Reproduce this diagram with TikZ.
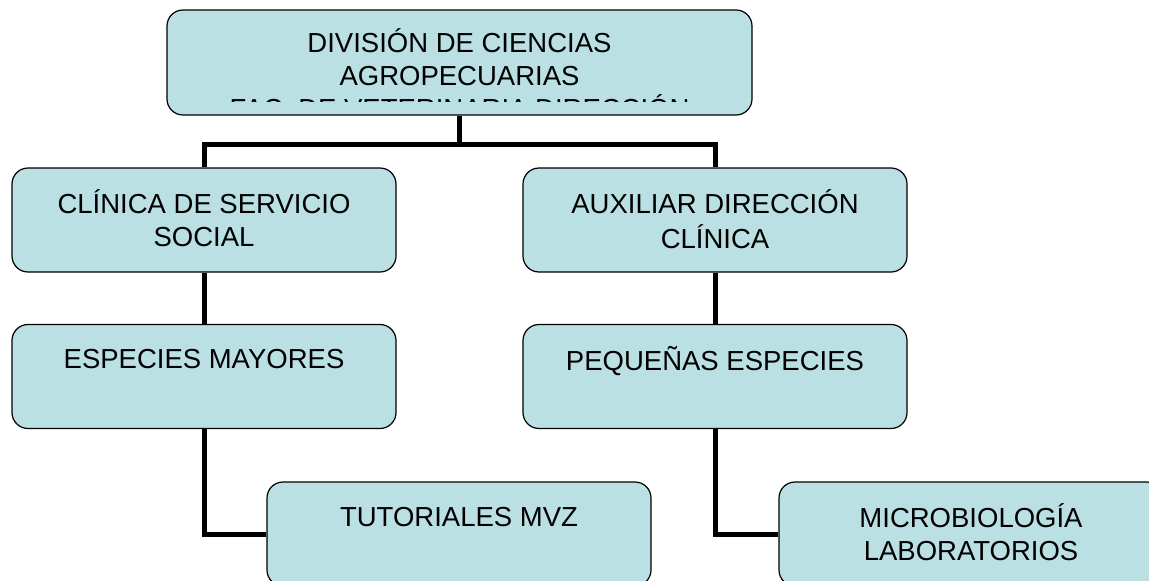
\documentclass[tikz,border=0pt]{standalone}
\usepackage{fontspec}
\setmainfont{Liberation Sans}
\definecolor{celeste}{HTML}{BBE0E3}
\newcommand{\rotulo}[3][61pt]{\parbox[c][#1][t]{#2}{\centering\strut #3}}

\begin{document}
\begin{tikzpicture}[x=1pt, y=1pt,
	caja/.style={draw=black, fill=celeste, line width=1.2pt, rounded corners=16pt, minimum width=384pt, minimum height=104pt, inner sep=0pt, font=\fontsize{27.5}{32.7}\selectfont},
	conector/.style={draw=black, line width=5pt}]
	\clip (0,0) rectangle (1149,-581);
	\node[caja, minimum width=585pt, minimum height=105pt, path picture={
		\clip (path picture bounding box.north west) rectangle ([yshift=14pt]path picture bounding box.south east);
		\node[inner sep=0pt, font=\fontsize{27.5}{32.7}\selectfont] (direccion texto) at (path picture bounding box.center) {\rotulo[67pt]{560pt}{DIVISIÓN DE CIENCIAS\\AGROPECUARIAS\\FAC. DE VETERINARIA DIRECCIÓN}};
	}] (direccion) at (459.5,-62.5) {};
	
	\node[caja] (clinica) at (204,-220) {\rotulo{370pt}{CLÍNICA DE SERVICIO\\SOCIAL}};
	\node[caja] (auxiliar) at (715,-220) {\rotulo{370pt}{AUXILIAR DIRECCIÓN\\CLÍNICA}};
	\node[caja] (mayores) at (204,-376.5) {\rotulo{370pt}{ESPECIES MAYORES}};
	\node[caja] (pequenas) at (715,-376.5) {\rotulo{370pt}{PEQUEÑAS ESPECIES}};
	\node[caja] (tutoriales) at (459,-534) {\rotulo{370pt}{TUTORIALES MVZ}};
	\node[caja] (micro) at (971,-534) {\rotulo{370pt}{MICROBIOLOGÍA\\LABORATORIOS}};
	
	\coordinate (union) at ([yshift=-29pt]direccion.south);
	\draw[conector] (direccion.south) -- (union) -| (clinica.north);
	\draw[conector] (direccion.south) -- (union) -| (auxiliar.north);
	\draw[conector] (clinica.south) -- (mayores.north);
	\draw[conector] (auxiliar.south) -- (pequenas.north);
	\draw[conector] (mayores.south) |- (tutoriales.west);
	\draw[conector] (pequenas.south) |- (micro.west);

\end{tikzpicture}
\end{document}
